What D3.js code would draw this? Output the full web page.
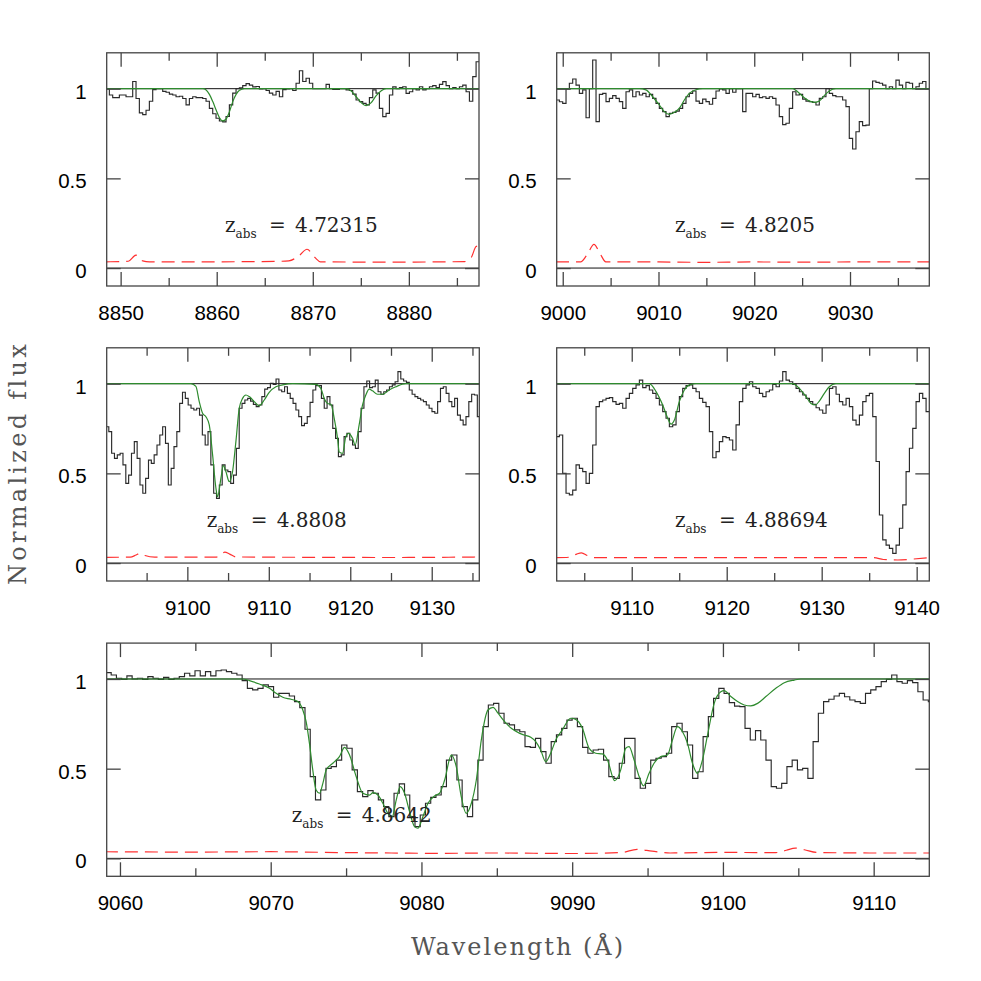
<!DOCTYPE html>
<html><head><meta charset="utf-8">
<script src="https://cdn.jsdelivr.net/npm/d3@7"></script>
<style>body{margin:0;background:#fff}</style>
</head><body>
<svg id="chart" width="981" height="981"></svg>
<script>
// ---------------- DATA ----------------
const zAbs = ["4.72315", "4.8205", "4.8808", "4.88694", "4.8642"];
const yTickValues = [0, 0.5, 1];
const yTickLabels = ["0", "0.5", "1"];
const yDomain = [-0.1, 1.2];
const xDomains = [[8848.55, 8887.3], [8999.37, 9038.28], [9090.1, 9135.84], [9102.1, 9141.33], [9059.12, 9113.69]];
// spectrum pixel grid: first pixel wavelength and pixel width (Å)
const specStart = [8848.48, 8999.30, 9090.01, 9102.03, 9059.07];
const specStep = [0.347, 0.348, 0.348, 0.351, 0.3475];

const flux1 = [1.00,0.965,0.95,0.95,0.965,0.965,0.955,0.955,1.04,0.945,
0.865,0.855,0.88,0.93,0.995,1.00,1.00,0.985,0.98,0.97,
0.965,0.955,0.958,0.945,0.91,0.945,0.955,0.95,0.95,0.945,
0.93,0.89,0.86,0.835,0.82,0.815,0.845,0.91,0.975,1.00,
1.005,1.017,1.028,1.02,1.01,1.012,0.998,1.00,0.99,0.975,
0.965,0.985,0.955,0.995,0.998,1.00,0.99,1.03,1.10,1.04,
1.058,1.03,1.00,1.00,1.00,1.00,1.024,1.00,0.996,0.996,
1.00,1.00,0.993,0.99,0.97,0.937,0.928,0.918,0.91,0.95,
0.993,0.975,0.89,0.844,0.862,0.965,1.01,1.00,1.006,1.011,
0.974,0.983,1.00,0.993,1.011,0.993,1.00,1.011,1.017,1.006,
1.024,1.039,1.017,1.00,1.006,1.00,1.011,1.02,0.983,0.93,
1.067,1.15];

const flux2 = [0.937,0.927,0.918,1.0,1.03,1.054,1.02,0.974,0.993,0.838,
1.0,1.16,0.816,0.968,0.974,0.928,0.946,0.961,0.946,0.928,
0.89,0.983,0.993,0.955,0.983,0.965,0.974,0.955,0.968,0.946,
0.918,0.89,0.872,0.844,0.862,0.868,0.875,0.89,0.918,0.955,
0.974,0.987,0.931,0.918,0.942,0.928,0.913,0.946,0.987,0.998,
0.993,0.974,1.0,0.98,1.0,1.0,0.872,0.974,0.974,0.955,
0.968,0.95,0.955,0.946,0.955,0.946,0.909,0.844,0.80,0.807,
0.89,0.983,0.965,0.968,0.942,0.931,0.928,0.924,0.909,0.946,
0.955,1.0,0.974,0.961,0.955,0.955,0.937,0.90,0.723,0.664,
0.76,0.816,0.794,0.797,1.0,1.043,1.035,1.03,1.02,1.0,
1.011,1.0,1.048,1.02,1.0,1.035,1.03,1.0,1.011,1.03,
1.04,1.0];

const flux3 = [0.76,0.733,0.612,0.584,0.603,0.612,0.547,0.444,0.49,0.612,
0.677,0.584,0.435,0.389,0.472,0.574,0.556,0.603,0.658,0.714,
0.76,0.667,0.435,0.528,0.649,0.733,0.89,0.952,0.918,0.881,
0.863,0.853,0.863,0.825,0.714,0.658,0.733,0.547,0.389,0.361,
0.435,0.547,0.519,0.51,0.444,0.49,0.639,0.863,0.89,0.909,
0.918,0.903,0.885,0.872,0.881,0.928,0.97,0.978,1.002,0.996,
1.026,0.965,0.955,0.983,0.946,0.918,0.89,0.853,0.816,0.766,
0.779,0.816,0.896,0.965,0.989,0.989,0.918,0.863,0.928,0.881,
0.751,0.695,0.593,0.603,0.705,0.723,0.686,0.658,0.639,0.733,
0.863,0.983,1.015,0.978,0.983,1.02,0.955,0.941,0.955,0.965,
0.983,0.993,1.011,1.067,1.026,1.015,1.007,0.965,0.941,0.928,
0.918,0.909,0.90,0.881,0.863,0.844,0.835,0.90,0.974,0.983,
0.946,0.90,0.872,0.918,0.825,0.797,0.77,0.816,0.90,0.941,
0.937,0.816];

const flux4 = [0.705,0.714,0.50,0.389,0.38,0.407,0.547,0.528,0.51,0.444,
0.50,0.658,0.872,0.90,0.909,0.918,0.922,0.90,0.885,0.89,
0.863,0.918,0.946,0.974,0.993,1.02,0.978,0.989,0.965,0.946,
0.918,0.881,0.844,0.807,0.76,0.77,0.844,0.928,0.974,0.989,
0.993,0.974,0.955,0.918,0.896,0.872,0.733,0.587,0.621,0.677,
0.705,0.699,0.686,0.63,0.77,0.90,0.974,0.993,1.011,0.983,
0.974,0.946,0.928,0.955,0.965,0.996,0.983,1.015,1.067,1.02,
1.011,0.996,0.974,0.955,0.937,0.918,0.90,0.885,0.866,0.853,
0.835,0.881,0.974,0.983,0.941,0.90,0.881,0.918,0.872,0.797,
0.77,0.825,0.90,0.933,0.946,0.816,0.566,0.268,0.129,0.10,
0.082,0.054,0.10,0.194,0.324,0.51,0.64,0.751,0.90,0.946,
0.918,0.844,0.844];

const flux5 = [1.035,1.022,1.004,0.998,1.017,1.0,1.004,0.998,1.013,1.004,
0.998,1.009,0.998,1.004,1.013,1.032,1.017,1.046,1.017,1.041,
1.017,1.046,1.05,1.041,1.032,1.022,0.991,0.948,0.939,0.948,
0.967,0.957,0.898,0.92,0.92,0.905,0.874,0.84,0.72,0.456,
0.326,0.381,0.502,0.511,0.548,0.632,0.614,0.493,0.372,0.344,
0.378,0.363,0.326,0.288,0.233,0.363,0.415,0.353,0.233,0.177,
0.242,0.307,0.340,0.353,0.40,0.548,0.576,0.437,0.288,0.233,
0.326,0.548,0.734,0.855,0.864,0.809,0.753,0.744,0.716,0.706,
0.623,0.619,0.669,0.595,0.53,0.651,0.688,0.725,0.771,0.781,
0.734,0.619,0.586,0.604,0.608,0.548,0.456,0.446,0.53,0.669,
0.669,0.446,0.391,0.418,0.548,0.558,0.567,0.586,0.734,0.753,
0.706,0.632,0.446,0.483,0.679,0.79,0.892,0.948,0.92,0.868,
0.849,0.846,0.725,0.66,0.712,0.66,0.548,0.40,0.391,0.418,
0.511,0.548,0.493,0.502,0.446,0.651,0.809,0.874,0.887,0.905,
0.92,0.901,0.883,0.874,0.864,0.92,0.939,0.957,0.985,0.998,
1.022,0.985,0.976,0.991,0.98,0.929,0.883,0.874];

// Voigt-profile fits (green), read as [wavelength, flux]
const model1 = [[8848.5,1],[8858.55,1],[8858.9,0.993],[8859.24,0.968],[8859.59,0.928],[8859.94,0.881],[8860.29,0.838],[8860.63,0.82],[8860.98,0.831],[8861.33,0.872],[8861.67,0.928],[8862.02,0.968],[8862.37,0.991],[8862.89,1],[8873.48,1],[8874.0,0.987],[8874.52,0.955],[8875.04,0.922],[8875.56,0.905],[8876.08,0.922],[8876.6,0.961],[8877.13,0.989],[8877.65,1],[8887.4,1]];
const model2 = [[8999.3,1],[9008.0,1],[9008.69,0.993],[9009.39,0.955],[9010.09,0.909],[9010.61,0.872],[9011.13,0.857],[9011.65,0.868],[9012.17,0.89],[9012.70,0.937],[9013.22,0.974],[9013.91,0.994],[9014.61,1],[9024.0,1],[9024.53,0.983],[9025.22,0.95],[9025.92,0.928],[9026.37,0.924],[9026.79,0.931],[9027.31,0.961],[9027.83,0.987],[9028.53,1],[9038.4,1]];
const model3 = [[9090.0,1],[9100.44,1],[9101.05,0.985],[9101.46,0.90],[9101.87,0.835],[9102.28,0.816],[9102.69,0.77],[9103.10,0.603],[9103.51,0.417],[9103.71,0.37],[9104.12,0.472],[9104.41,0.543],[9104.73,0.51],[9105.14,0.454],[9105.55,0.51],[9105.96,0.677],[9106.37,0.863],[9106.78,0.918],[9107.19,0.937],[9107.60,0.928],[9108.21,0.90],[9108.82,0.877],[9109.44,0.909],[9110.05,0.952],[9110.87,0.983],[9111.69,0.993],[9112.91,1],[9115.78,0.996],[9116.39,0.974],[9116.80,0.918],[9117.21,0.89],[9117.62,0.885],[9118.03,0.807],[9118.44,0.695],[9118.64,0.62],[9119.05,0.612],[9119.46,0.705],[9119.79,0.723],[9120.28,0.695],[9120.60,0.658],[9121.09,0.77],[9121.50,0.881],[9121.91,0.937],[9122.32,0.97],[9122.73,0.96],[9123.34,0.941],[9123.96,0.941],[9124.77,0.965],[9125.59,0.983],[9126.82,1],[9136.0,1]];
const model4 = [[9102.0,1],[9111.85,1],[9112.56,0.956],[9113.26,0.881],[9113.79,0.807],[9114.14,0.774],[9114.49,0.797],[9115.01,0.90],[9115.54,0.965],[9116.07,0.993],[9116.77,1],[9126.94,1],[9127.64,0.974],[9128.35,0.928],[9128.87,0.89],[9129.33,0.881],[9129.75,0.903],[9130.28,0.946],[9130.80,0.983],[9131.50,1],[9141.4,1]];
const model5 = [[9059.0,1],[9068.14,1],[9068.59,0.991],[9069.25,0.972],[9069.92,0.948],[9070.36,0.92],[9070.80,0.898],[9071.35,0.887],[9071.80,0.874],[9072.13,0.827],[9072.35,0.762],[9072.57,0.641],[9072.79,0.493],[9073.01,0.381],[9073.24,0.363],[9073.46,0.418],[9073.68,0.493],[9074.12,0.53],[9074.56,0.567],[9074.90,0.619],[9075.23,0.576],[9075.67,0.456],[9076.11,0.363],[9076.56,0.353],[9076.78,0.366],[9077.11,0.353],[9077.44,0.307],[9077.77,0.251],[9078.06,0.233],[9078.33,0.326],[9078.59,0.40],[9078.88,0.363],[9079.21,0.261],[9079.54,0.177],[9079.76,0.168],[9080.10,0.233],[9080.43,0.307],[9080.87,0.348],[9081.20,0.363],[9081.54,0.437],[9081.98,0.576],[9082.31,0.511],[9082.64,0.344],[9082.97,0.251],[9083.31,0.307],[9083.64,0.437],[9083.97,0.66],[9084.41,0.827],[9084.75,0.842],[9085.08,0.809],[9085.52,0.762],[9085.96,0.725],[9086.52,0.697],[9086.80,0.688],[9087.25,0.675],[9087.58,0.651],[9087.91,0.604],[9088.24,0.539],[9088.57,0.586],[9088.91,0.66],[9089.35,0.716],[9089.90,0.781],[9090.23,0.775],[9090.68,0.725],[9091.12,0.614],[9091.56,0.586],[9092.00,0.582],[9092.34,0.548],[9092.82,0.433],[9093.22,0.493],[9093.55,0.614],[9093.77,0.623],[9094.11,0.548],[9094.44,0.456],[9094.73,0.404],[9095.10,0.474],[9095.43,0.53],[9095.88,0.567],[9096.32,0.576],[9096.65,0.66],[9096.98,0.734],[9097.32,0.706],[9097.65,0.641],[9097.98,0.53],[9098.31,0.474],[9098.64,0.548],[9098.98,0.688],[9099.42,0.864],[9099.86,0.929],[9100.08,0.935],[9100.53,0.902],[9100.97,0.874],[9101.41,0.855],[9101.85,0.85],[9102.30,0.864],[9102.85,0.902],[9103.51,0.948],[9104.07,0.979],[9104.73,0.994],[9105.17,1],[9114.0,1]];

// 1-sigma error spectra (red dashed), [wavelength, flux]
const err1 = [[8848.5,0.035],[8850.8,0.038],[8851.6,0.072],[8852.3,0.04],[8853,0.035],[8860,0.035],[8866,0.037],[8867.5,0.04],[8868.6,0.07],[8869.4,0.105],[8870.2,0.06],[8870.8,0.035],[8878,0.033],[8885.8,0.036],[8886.5,0.06],[8887.0,0.12],[8887.4,0.125]];
const err2 = [[8999.3,0.035],[9001.9,0.035],[9002.6,0.08],[9003.26,0.132],[9003.9,0.08],[9004.5,0.035],[9010,0.034],[9015,0.032],[9020,0.034],[9025,0.033],[9030,0.034],[9038.4,0.034]];
const err3 = [[9090.0,0.032],[9093.0,0.033],[9093.7,0.045],[9094.2,0.054],[9094.8,0.042],[9096,0.033],[9103.5,0.033],[9104.1,0.048],[9104.6,0.061],[9105.2,0.05],[9106,0.034],[9115,0.032],[9125,0.031],[9136.0,0.034]];
const err4 = [[9102.0,0.03],[9103.5,0.033],[9104.2,0.05],[9104.7,0.057],[9105.4,0.04],[9106.2,0.03],[9120,0.03],[9135.5,0.03],[9136.5,0.02],[9138,0.017],[9139.5,0.022],[9141.4,0.03]];
const err5 = [[9059.0,0.037],[9065,0.035],[9070,0.037],[9075,0.032],[9078,0.03],[9081,0.028],[9085,0.03],[9090,0.027],[9093.3,0.033],[9094.3,0.05],[9095.3,0.04],[9096.5,0.03],[9100,0.033],[9103.5,0.032],[9104.2,0.045],[9104.8,0.057],[9105.4,0.048],[9106.2,0.033],[9110,0.03],[9114.0,0.03]];

// ---------------- LAYOUT ----------------
const frames = [
  {x: 106.7, y: 52.8, w: 372.3, h: 233.2},
  {x: 556.7, y: 52.8, w: 372.6, h: 233.2},
  {x: 106.7, y: 347.8, w: 372.6, h: 233.2},
  {x: 556.7, y: 347.8, w: 372.6, h: 233.2},
  {x: 106.7, y: 643.1, w: 822.6, h: 233.2}
];
const zLabelX = [8860.87, 9011.72, 9102.37, 9114.55, 9071.4];
const zLabelY = 0.2;

const fluxes = [flux1, flux2, flux3, flux4, flux5];
const models = [model1, model2, model3, model4, model5];
const errs = [err1, err2, err3, err4, err5];

const svg = d3.select("#chart");
const FRAME = "#444";
const tickFont = "'Liberation Sans', Arial, sans-serif";

frames.forEach((fr, i) => {
  const x = d3.scaleLinear().domain(xDomains[i]).range([fr.x, fr.x + fr.w]);
  const y = d3.scaleLinear().domain(yDomain).range([fr.y + fr.h, fr.y]);
  const g = svg.append("g");
  const clipId = "clip" + i;
  svg.append("clipPath").attr("id", clipId).append("rect")
    .attr("x", fr.x).attr("y", fr.y).attr("width", fr.w).attr("height", fr.h);
  const plot = g.append("g").attr("clip-path", `url(#${clipId})`);

  // reference lines at 0 and 1
  [0, 1].forEach(v => {
    plot.append("line").attr("x1", fr.x).attr("x2", fr.x + fr.w)
      .attr("y1", y(v)).attr("y2", y(v))
      .attr("stroke", "#111").attr("stroke-width", 1);
  });

  // spectrum as histogram
  const f = fluxes[i];
  const pts = f.map((v, k) => [specStart[i] + k * specStep[i], v]);
  pts.push([specStart[i] + f.length * specStep[i], f[f.length - 1]]);
  const line = d3.line().x(d => x(d[0])).y(d => y(d[1]));
  plot.append("path").attr("d", line.curve(d3.curveStepAfter)(pts))
    .attr("fill", "none").attr("stroke", "#2a2a2a").attr("stroke-width", 1.15);

  // error spectrum
  plot.append("path").attr("d", d3.line().x(d => x(d[0])).y(d => y(d[1])).curve(d3.curveMonotoneX)(errs[i]))
    .attr("fill", "none").attr("stroke", "#ff3030").attr("stroke-width", 1.2)
    .attr("stroke-dasharray", "13,7");

  // model fit
  plot.append("path").attr("d", d3.line().x(d => x(d[0])).y(d => y(d[1])).curve(d3.curveMonotoneX)(models[i]))
    .attr("fill", "none").attr("stroke", "#2e8b2e").attr("stroke-width", 1.2);

  // z_abs label
  const lx = x(zLabelX[i]), ly = y(zLabelY);
  const t = g.append("text").attr("x", lx).attr("y", ly)
    .attr("font-family", "'DejaVu Serif', serif").attr("font-size", 20).attr("fill", "#222");
  t.append("tspan").text("z");
  t.append("tspan").attr("font-size", 12).attr("dy", 6).text("abs");
  t.append("tspan").attr("x", lx + 44).attr("dy", -6).text("=");
  t.append("tspan").attr("x", lx + 70).text(zAbs[i]);

  // axes / ticks
  const [d0, d1] = xDomains[i];
  const major = d3.range(Math.ceil(d0 / 10) * 10, d1, 10);
  const minor = d3.range(Math.ceil(d0 / 5) * 5, d1, 5).filter(v => v % 10 !== 0);
  const styleAxis = sel => {
    sel.select(".domain").remove();
    sel.selectAll(".tick line").attr("stroke", FRAME).attr("stroke-width", 1.3);
    sel.attr("font-family", tickFont).attr("font-size", 20.5);
    sel.selectAll("text").attr("fill", "#000");
  };
  const bottom = fr.y + fr.h, top = fr.y;
  g.append("g").attr("transform", `translate(0,${bottom})`)
    .call(d3.axisBottom(x).tickValues(major).tickSize(-14).tickPadding(19).tickFormat(d3.format("d")))
    .call(styleAxis);
  g.append("g").attr("transform", `translate(0,${bottom})`)
    .call(d3.axisBottom(x).tickValues(minor).tickSize(-8).tickFormat(""))
    .call(styleAxis);
  g.append("g").attr("transform", `translate(0,${top})`)
    .call(d3.axisTop(x).tickValues(major).tickSize(-14).tickFormat(""))
    .call(styleAxis);
  g.append("g").attr("transform", `translate(0,${top})`)
    .call(d3.axisTop(x).tickValues(minor).tickSize(-8).tickFormat(""))
    .call(styleAxis);
  g.append("g").attr("transform", `translate(${fr.x},0)`)
    .call(d3.axisLeft(y).tickValues(yTickValues).tickSize(-14).tickPadding(20)
      .tickFormat((d, j) => yTickLabels[j]))
    .call(styleAxis)
    .call(s => s.selectAll("text").attr("transform", "translate(0,3)"));
  g.append("g").attr("transform", `translate(${fr.x + fr.w},0)`)
    .call(d3.axisRight(y).tickValues(yTickValues).tickSize(-14).tickFormat(""))
    .call(styleAxis);

  // frame
  g.append("rect").attr("x", fr.x).attr("y", fr.y).attr("width", fr.w).attr("height", fr.h)
    .attr("fill", "none").attr("stroke", FRAME).attr("stroke-width", 1.3);
});

// axis titles
svg.append("text").attr("transform", "translate(26,463) rotate(-90)")
  .attr("text-anchor", "middle").attr("font-family", "'DejaVu Serif', serif")
  .attr("font-size", 24).attr("letter-spacing", 3.3).attr("fill", "#555")
  .text("Normalized flux");
svg.append("text").attr("x", 518).attr("y", 955)
  .attr("text-anchor", "middle").attr("font-family", "'DejaVu Serif', serif")
  .attr("font-size", 24).attr("letter-spacing", 2).attr("fill", "#555")
  .text("Wavelength (Å)");
</script>
</body></html>
